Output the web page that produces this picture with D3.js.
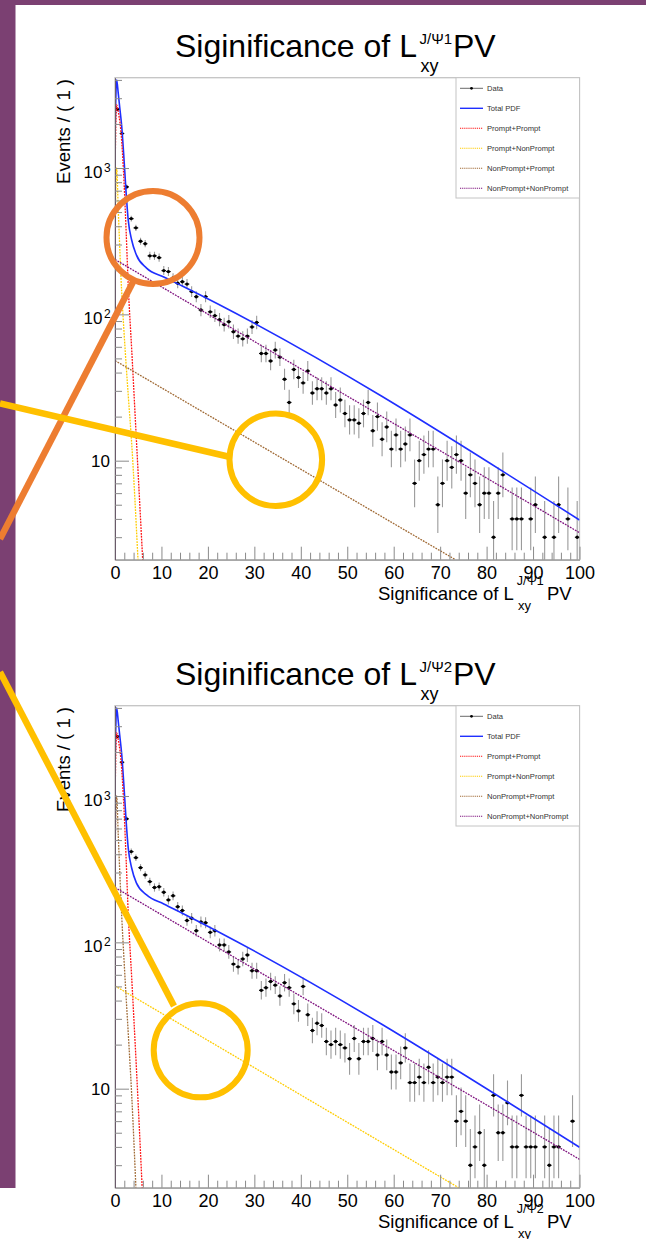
<!DOCTYPE html>
<html><head><meta charset="utf-8">
<script src="https://cdn.jsdelivr.net/npm/d3@7"></script>
<style>
body{margin:0;background:#fff}
svg{display:block}
text{font-family:"Liberation Sans",Arial,Helvetica,sans-serif}
</style>
</head><body>
<svg id="c" width="646" height="1239"></svg>
<script>
// ---------------- DATA ----------------
const binEdges = d3.range(0, 101, 1);           // 100 bins of width 1 on [0,100]
const xMajorTicks = [0,10,20,30,40,50,60,70,80,90,100];
const xMinorTicks = [2,4,6,8,12,14,16,18,22,24,26,28,32,34,36,38,42,44,46,48,52,54,56,58,62,64,66,68,72,74,76,78,82,84,86,88,92,94,96,98];
const yMajorTicks = [10,100,1000];
const yMinorTicks = [3,4,5,6,7,8,9,20,30,40,50,60,70,80,90,200,300,400,500,600,700,800,900,2000,3000,4000];
const yTickExp = ["1","2","3"];
const legendLabels = ["Data","Total PDF","Prompt+Prompt","Prompt+NonPrompt","NonPrompt+Prompt","NonPrompt+NonPrompt"];

// Panel 1 : J/Psi1
const counts1 = [2520,1720,743,451,390,316,304,251,251,244,
 199,196,177,163,167,161,143,132,107,132,
 104,98,92,85,89,76,71,68,71,82,
 88,54,54,48,57,51,36,25,42,37,
 34,41,29,31,31,29,31,24,26,21,
 19,19,18,21,25,16,20,14,17,12,
 15,12,13,15,7,10,11,12,12,5,
 7,10,9,11,10,6,8,7,5,6,
 6,3,6,8,0,4,4,4,0,4,
 5,0,3,0,3,5,0,4,0,3];
const totalX1 = [0,0.35,0.7,1.0,1.45,1.95,2.4,2.85,3.6,4.6,6.8,10.5,14.7,100];
const totalY1 = [1550,4000,3240,2630,1920,1135,673,440,321,255,207,180,155,3.93];
const ppX1 = [0,0.35,0.7,1.45,1.95,2.4,2.85,3.6,4.6,5.96];
const ppY1 = [900,2700,2430,1510,795,368,157,57,14,2.105];
const pnpX1 = [0,0.35,0.7,1.45,1.95,2.4,2.85,3.6,4.95];
const pnpY1 = [365,1000,520,140,75,45,28,13,2.105];
const nppX1 = [0,73.3];
const nppY1 = [48.3,2.105];
const npnpX1 = [0,100];
const npnpY1 = [237,3.22];

// Panel 2 : J/Psi2
const counts2 = [2550,1700,698,417,379,324,289,260,237,240,
 220,195,208,175,165,141,146,120,138,136,
 117,120,96,96,86,71,68,77,82,64,
 64,47,49,54,51,43,53,49,38,34,
 50,32,25,28,27,21,20,21,20,19,
 16,22,16,21,21,22,17,21,17,13,
 13,15,19,11,11,12,11,14,11,12,
 11,12,12,6,7,6,3,4,5,3,
 0,9,5,5,8,4,4,9,4,4,
 4,0,4,3,4,4,0,0,6,0];
const totalX2 = [0,0.35,0.7,1.0,1.45,1.95,2.4,2.85,3.6,4.6,6.8,10.5,14.7,100];
const totalY2 = [1550,4000,3240,2630,1920,1135,673,440,321,255,211,183,157,3.98];
const ppX2 = [0,0.35,0.7,1.45,1.95,2.4,2.85,3.6,4.6,5.85];
const ppY2 = [900,2700,2430,1510,795,368,157,57,14,2.105];
const pnpX2 = [0,74.0];
const pnpY2 = [50.4,2.105];
const nppX2 = [0,0.35,0.7,1.45,1.95,2.4,2.85,3.6,4.5];
const nppY2 = [365,1000,540,150,75,42,24,9,2.105];
const npnpX2 = [0,100];
const npnpY2 = [237,3.29];

// ---------------- STYLE ----------------
const PURPLE_BG = "#7b4072";
const COL = {total:"#1f2fff", pp:"#ff1010", pnp:"#ffcc00", npp:"#a06a35", npnp:"#7e117e"};
const DOT = "1.8,1.1";
const W = 646, H = 1239;
const svg = d3.select("#c");
svg.append("rect").attr("width",W).attr("height",H).attr("fill","#fff");
svg.append("rect").attr("x",0).attr("y",0).attr("width",W).attr("height",5).attr("fill",PURPLE_BG);
svg.append("rect").attr("x",0).attr("y",0).attr("width",15.5).attr("height",1188).attr("fill",PURPLE_BG);

const panels = [
 {off:0, idx:"1", counts:counts1,
  curves:[
   {x:totalX1,y:totalY1,c:COL.total,dash:null,w:1.6},
   {x:ppX1,y:ppY1,c:COL.pp,dash:DOT,w:1.3},
   {x:pnpX1,y:pnpY1,c:COL.pnp,dash:DOT,w:1.3},
   {x:nppX1,y:nppY1,c:COL.npp,dash:DOT,w:1.3},
   {x:npnpX1,y:npnpY1,c:COL.npnp,dash:DOT,w:1.3}]},
 {off:628, idx:"2", counts:counts2,
  curves:[
   {x:totalX2,y:totalY2,c:COL.total,dash:null,w:1.6},
   {x:ppX2,y:ppY2,c:COL.pp,dash:DOT,w:1.3},
   {x:pnpX2,y:pnpY2,c:COL.pnp,dash:DOT,w:1.3},
   {x:nppX2,y:nppY2,c:COL.npp,dash:DOT,w:1.3},
   {x:npnpX2,y:npnpY2,c:COL.npnp,dash:DOT,w:1.3}]}
];

const FL=115, FR=579.5, FT=77.7, FB=559.7;
const YMIN=2.105, YMAX=4142;

panels.forEach((p,pi)=>{
  const off = p.off;
  const g = svg.append("g");
  const x = d3.scaleLinear().domain([0,100]).range([FL,FR]);
  const y = d3.scaleLog().domain([YMIN,YMAX]).range([FB+off, FT+off]);

  // title
  const t = g.append("g").attr("fill","#000");
  t.append("text").attr("x",175).attr("y",57+off).attr("font-size",32).text("Siginificance of L");
  t.append("text").attr("x",419.5).attr("y",43.5+off).attr("font-size",15).text("J/\u03A8"+p.idx);
  t.append("text").attr("x",420.5).attr("y",72+off).attr("font-size",18).text("xy");
  t.append("text").attr("x",453).attr("y",57+off).attr("font-size",32).text("PV");

  // frame
  g.append("rect").attr("x",FL).attr("y",FT+off).attr("width",FR-FL).attr("height",FB-FT)
   .attr("fill","none").attr("stroke","#c4c4c4").attr("stroke-width",1.3);

  // clip
  const cid = "clip"+pi;
  svg.append("clipPath").attr("id",cid).append("rect")
   .attr("x",FL).attr("y",FT+off).attr("width",FR-FL).attr("height",FB-FT);
  const plot = g.append("g").attr("clip-path",`url(#${cid})`);

  // data points
  const bins = p.counts.map((n,i)=>({lo:binEdges[i],hi:binEdges[i+1],n})).filter(d=>d.n>0);
  const eb = plot.append("g");
  bins.forEach(d=>{
    const cx = x((d.lo+d.hi)/2), cy = y(d.n);
    const s = Math.sqrt(d.n+0.25);
    const up = d.n+0.5+s, dn = Math.max(d.n+0.5-s, YMIN*0.6);
    eb.append("line").attr("x1",cx).attr("x2",cx).attr("y1",y(dn)).attr("y2",y(up))
      .attr("stroke","#9a9a9a").attr("stroke-width",1.1);
    eb.append("line").attr("x1",x(d.lo)).attr("x2",x(d.hi)).attr("y1",cy).attr("y2",cy)
      .attr("stroke","#111").attr("stroke-width",1.1);
    eb.append("circle").attr("cx",cx).attr("cy",cy).attr("r",1.7).attr("fill","#000");
  });

  // curves
  p.curves.forEach(c=>{
    const pts = c.x.map((v,i)=>[v,c.y[i]]);
    // RooFit-style closing edge at the lower x limit
    plot.append("line").attr("x1",x(c.x[0])).attr("x2",x(c.x[0])).attr("y1",y(YMIN)).attr("y2",y(c.y[0]))
      .attr("stroke",c.c).attr("stroke-width",c.w).attr("stroke-dasharray",c.dash);
    const line = d3.line().x(d=>x(d[0])).y(d=>y(d[1]))
      .curve(pts.length>2 ? d3.curveMonotoneX : d3.curveLinear);
    plot.append("path").attr("d",line(pts)).attr("fill","none").attr("stroke",c.c)
      .attr("stroke-width",c.w).attr("stroke-dasharray",c.dash);
  });

  // axes
  const ax = g.append("g").attr("transform",`translate(0,${FB+off})`)
    .call(d3.axisBottom(x).tickValues(xMajorTicks).tickSize(-13).tickSizeOuter(0).tickPadding(6.5).tickFormat(d3.format("d")));
  ax.select(".domain").attr("stroke","#8a8a8a");
  ax.selectAll(".tick line").attr("stroke","#8a8a8a");
  ax.selectAll(".tick text").attr("font-size",18).attr("fill","#000").attr("font-family","Liberation Sans, Arial, sans-serif");
  const axm = g.append("g").attr("transform",`translate(0,${FB+off})`)
    .call(d3.axisBottom(x).tickValues(xMinorTicks).tickSize(-7).tickSizeOuter(0).tickFormat(""));
  axm.select(".domain").remove();
  axm.selectAll(".tick line").attr("stroke","#8a8a8a");

  const ay = g.append("g").attr("transform",`translate(${FL},0)`)
    .call(d3.axisLeft(y).tickValues(yMajorTicks).tickSize(-14).tickSizeOuter(0).tickFormat(""));
  ay.select(".domain").attr("stroke","#6a5a6a");
  ay.selectAll(".tick line").attr("stroke","#8a8a8a");
  const aym = g.append("g").attr("transform",`translate(${FL},0)`)
    .call(d3.axisLeft(y).tickValues(yMinorTicks).tickSize(-7).tickSizeOuter(0).tickFormat(""));
  aym.select(".domain").remove();
  aym.selectAll(".tick line").attr("stroke","#8a8a8a");

  // y tick labels
  yMajorTicks.forEach((v,i)=>{
    const ty = y(v);
    if (v === 10) {
      g.append("text").attr("x",110).attr("y",ty+6.5).attr("text-anchor","end").attr("font-size",17).text("10");
    } else {
      g.append("text").attr("x",102.5).attr("y",ty+10).attr("text-anchor","end").attr("font-size",17).text("10");
      g.append("text").attr("x",104).attr("y",ty+3.5).attr("font-size",12).text(yTickExp[i]);
    }
  });

  // y title
  g.append("text").attr("transform",`translate(70,${79+off}) rotate(-90)`).attr("text-anchor","end")
    .attr("font-size",18.5).text("Events / ( 1 )");

  // x title
  const xt = g.append("g");
  xt.append("text").attr("x",378).attr("y",599.5+off).attr("font-size",18.5).text("Significance of L");
  xt.append("text").attr("x",516.7).attr("y",585+off).attr("font-size",12.5).text("J/\u03A8"+p.idx);
  xt.append("text").attr("x",518).attr("y",609.5+off).attr("font-size",13).text("xy");
  xt.append("text").attr("x",547).attr("y",599.5+off).attr("font-size",18.5).text("PV");

  // legend
  const lg = g.append("g");
  lg.append("rect").attr("x",456).attr("y",FT+off).attr("width",FR-456).attr("height",198-FT)
    .attr("fill","#fff").attr("stroke","#c4c4c4").attr("stroke-width",1);
  const legCols = ["#444",COL.total,COL.pp,COL.pnp,COL.npp,COL.npnp];
  legendLabels.forEach((lab,i)=>{
    const ly = 88.3 + 20*i + off;
    const ln = lg.append("line").attr("x1",460).attr("x2",483).attr("y1",ly).attr("y2",ly)
      .attr("stroke",legCols[i]).attr("stroke-width", i===0?0.8:(i===1?1.4:1.1));
    if (i>1) ln.attr("stroke-dasharray","1.2,0.9");
    if (i===0) lg.append("circle").attr("cx",471.5).attr("cy",ly).attr("r",1.4).attr("fill","#000");
    lg.append("text").attr("x",487).attr("y",ly+2.6).attr("font-size",7.6).attr("fill","#333").text(lab);
  });
});

// ---------------- ANNOTATION OVERLAY ----------------
const annotCircles = [
  {cx:153, cy:237.5, r:46.5, c:"#ed7d31"},
  {cx:275.8, cy:459.7, r:46.3, c:"#ffc000"},
  {cx:200.7, cy:1050.3, r:47, c:"#ffc000"}
];
const annotLines = [
  {x1:133, y1:282, x2:0, y2:539, c:"#ed7d31"},
  {x1:228, y1:456.5, x2:0, y2:403.3, c:"#ffc000"},
  {x1:174, y1:1006, x2:0, y2:672, c:"#ffc000"}
];
const ov = svg.append("g");
annotLines.forEach(l=>ov.append("line").attr("x1",l.x1).attr("y1",l.y1).attr("x2",l.x2).attr("y2",l.y2)
  .attr("stroke",l.c).attr("stroke-width",6.5));
annotCircles.forEach(c=>ov.append("circle").attr("cx",c.cx).attr("cy",c.cy).attr("r",c.r)
  .attr("fill","none").attr("stroke",c.c).attr("stroke-width",6));
</script>
</body></html>
